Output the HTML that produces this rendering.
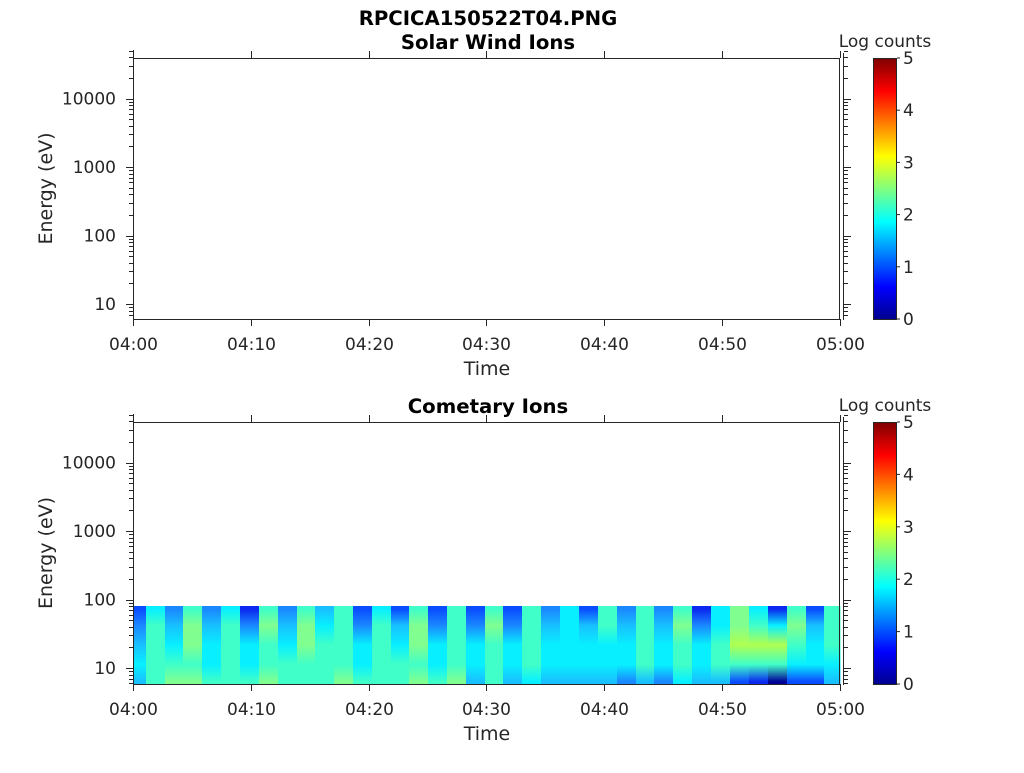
<!DOCTYPE html>
<html><head><meta charset="utf-8"><style>
html,body{margin:0;padding:0;background:#fff;}
svg text{font-family:"DejaVu Sans","Liberation Sans",sans-serif;fill:#262626;}
</style></head><body>
<svg id="s" width="1024" height="768" xmlns="http://www.w3.org/2000/svg">
<defs id="defs">
<linearGradient id="jet" x1="0" y1="1" x2="0" y2="0">
<stop offset="0" stop-color="#00008f"/><stop offset="0.125" stop-color="#0000ff"/>
<stop offset="0.375" stop-color="#00ffff"/><stop offset="0.625" stop-color="#ffff00"/>
<stop offset="0.875" stop-color="#ff0000"/><stop offset="1" stop-color="#800000"/>
</linearGradient>
</defs>
<text x="488" y="25" font-size="19.7" font-weight="bold" text-anchor="middle" style="fill:#000">RPCICA150522T04.PNG</text>
<text x="488" y="49" font-size="19.7" font-weight="bold" text-anchor="middle" style="fill:#000">Solar Wind Ions</text>
<text x="488" y="413" font-size="19.7" font-weight="bold" text-anchor="middle" style="fill:#000">Cometary Ions</text>
<g id="spec"></g>
<g id="axes"></g>
</svg>
<script>
const S=document.getElementById('axes'),SP=document.getElementById('spec'),D=document.getElementById('defs');
const NS='http://www.w3.org/2000/svg';
function el(p,t,a,txt){const e=document.createElementNS(NS,t);for(const k in a)e.setAttribute(k,a[k]);if(txt!==undefined)e.textContent=txt;p.appendChild(e);return e;}
const B0='#0a28f0',B1='#0a4cff',B2='#1a88ff',L='#18c0ff',C='#08f0ff',A='#40ffc8',G='#80ff90',Y='#b0ff50',Z='#000098';
const cols=[
[133,B1,B2,L,C,L],[146,C,A,A,A,A],[165,B2,L,C,A,G],[183,A,G,G,A,G],[202,B2,L,C,C,A],[221,C,A,A,A,A],
[240,B0,B2,C,C,A],[259,A,G,A,A,G],[278,B2,L,C,A,A],[297,A,G,G,A,A],[315,L,C,A,A,A],[334,A,A,A,A,G],
[353,B1,B2,C,C,A],[372,C,A,A,A,A],[391,B1,L,C,A,A],[409,A,G,G,A,G],[428,B1,B2,C,C,A],[447,A,A,A,A,G],
[466,B1,B2,C,C,L],[485,A,G,A,A,A],[503,B1,B2,C,C,L],[522,A,A,A,A,C],[541,B2,L,C,C,L],[560,C,C,C,C,L],
[579,B1,L,C,C,L],[598,A,A,C,C,L],[617,B2,L,C,C,B2],[636,A,A,A,A,L],[654,B2,L,C,C,B2],[673,A,G,A,A,C],
[692,B0,B2,C,C,L],[711,C,C,A,A,L],[730,G,G,Y,A,B1],[749,C,A,Y,A,B0],[768,B0,C,Y,A,Z],[787,A,G,A,C,B1],
[806,B1,L,C,C,B1],[824,A,A,A,C,L]];
const offs=[0.04,0.25,0.5,0.75,0.97];
cols.forEach((c,i)=>{const x0=c[0],x1=i<cols.length-1?cols[i+1][0]:840;
 const g=el(D,'linearGradient',{id:'g'+i,x1:0,y1:0,x2:0,y2:1});
 for(let b=0;b<5;b++)el(g,'stop',{offset:offs[b],'stop-color':c[b+1]});
 el(SP,'rect',{x:x0,y:606,width:x1-x0+0.5,height:78,fill:'url(#g'+i+')'});});
function panel(top,bot,d10){
 const k='#262626';
 el(S,'line',{x1:133,x2:840,y1:top+0.5,y2:top+0.5,stroke:k});
 el(S,'line',{x1:133,x2:840,y1:bot+0.5,y2:bot+0.5,stroke:k});
 el(S,'line',{x1:133.5,x2:133.5,y1:top-8,y2:bot+1,stroke:k});
 el(S,'line',{x1:839.5,x2:839.5,y1:top,y2:bot+1,stroke:k});
 el(S,'line',{x1:843.5,x2:843.5,y1:top-5,y2:bot+1,stroke:k});
 const dec=68.5;
 for(let d=0;d<5;d++){for(let kk=1;kk<10;kk++){const y=Math.round(d10-(d-1+Math.log10(kk))*dec)+0.5;if(y<top-8||y>bot)continue;
  const len=kk==1?7:4;
  el(S,'line',{x1:133,x2:133-len,y1:y,y2:y,stroke:k});
  el(S,'line',{x1:844,x2:844+len,y1:y,y2:y,stroke:k});}}
 ['10','100','1000','10000'].forEach((t,i)=>el(S,'text',{x:116,y:d10-i*dec+6,'font-size':17,'text-anchor':'end'},t));
 ['04:00','04:10','04:20','04:30','04:40','04:50','05:00'].forEach((t,i)=>{const x=Math.round(133+i*117.8)+0.5;
  el(S,'line',{x1:x,x2:x,y1:bot,y2:bot+7,stroke:k});el(S,'line',{x1:x,x2:x,y1:top,y2:top-7,stroke:k});
  el(S,'text',{x:x,y:bot+31,'font-size':17,'text-anchor':'middle'},t);});
 el(S,'text',{x:487,y:bot+56,'font-size':19,'text-anchor':'middle'},'Time');
 el(S,'text',{x:0,y:0,'font-size':19,'text-anchor':'middle',transform:`translate(52,${(top+bot)/2}) rotate(-90)`},'Energy (eV)');
 el(S,'rect',{x:873.5,y:top+0.5,width:23,height:bot-top,fill:'url(#jet)',stroke:k});
 for(let i=0;i<=5;i++){const y=bot-(bot-top)*i/5;
  el(S,'line',{x1:897,x2:900,y1:y,y2:y,stroke:k});
  el(S,'text',{x:903,y:y+6,'font-size':17},String(i));}
 el(S,'text',{x:885,y:top-11,'font-size':17,'text-anchor':'middle'},'Log counts');
}
panel(58,319,304);
panel(422,684,668);
</script>
</body></html>
